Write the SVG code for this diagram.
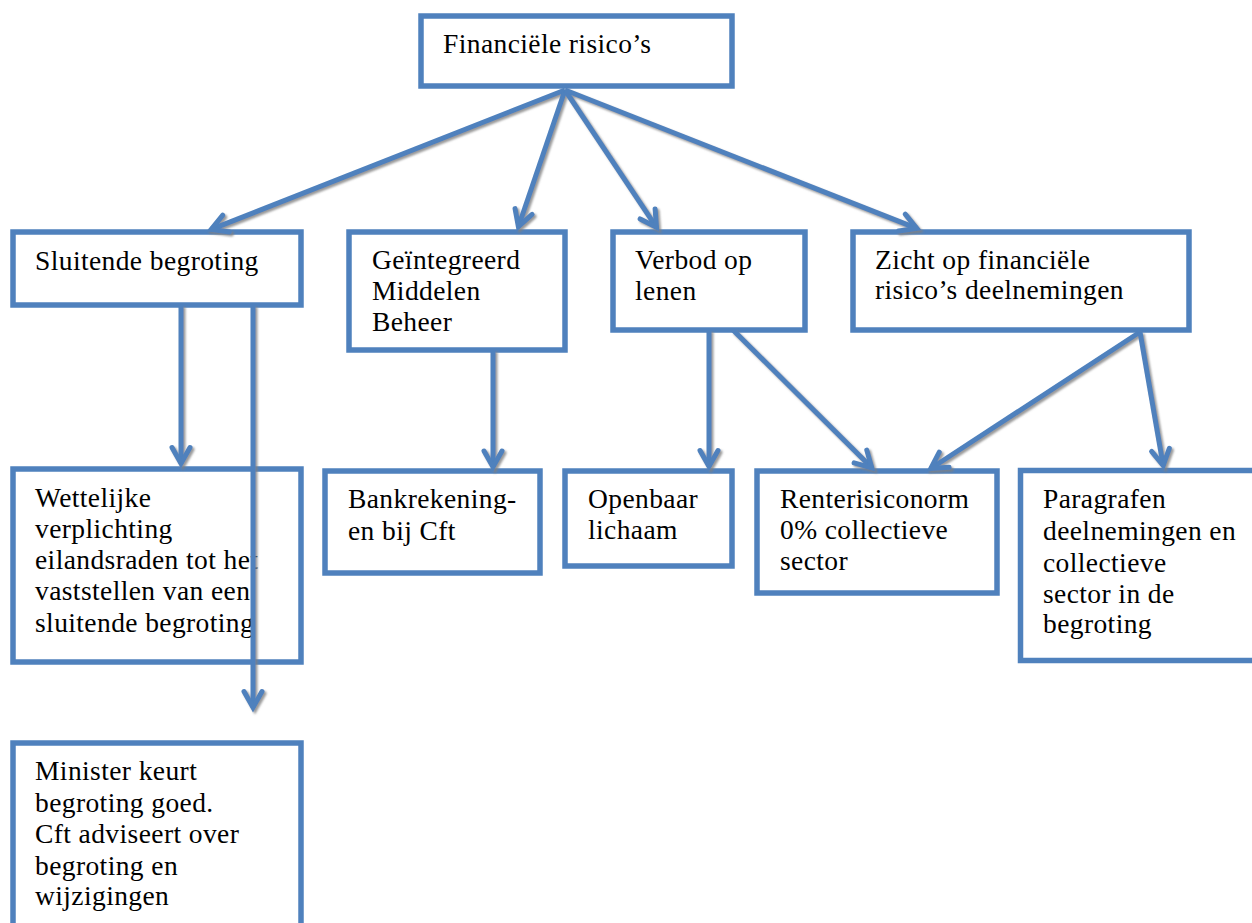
<svg xmlns="http://www.w3.org/2000/svg" width="1252" height="923" viewBox="0 0 1252 923">
<style>
.box{fill:#ffffff;stroke:#4f81bd;stroke-width:5.5}
.t{font-family:'Liberation Serif','DejaVu Serif',serif;font-size:27.5px;letter-spacing:0.4px;fill:#000000}
.c line{stroke:#4f81bd;stroke-width:5;fill:none;marker-end:url(#ah)}
</style>
<defs>
<marker id="ah" markerUnits="userSpaceOnUse" markerWidth="40" markerHeight="40" viewBox="-20 -20 40 40" refX="0" refY="0" orient="auto" overflow="visible">
<path d="M-16,-9 L0,0 L-16,9" fill="none" stroke="#4f81bd" stroke-width="5" stroke-linejoin="miter" stroke-linecap="round"/>
</marker>
<filter id="sh" filterUnits="userSpaceOnUse" x="0" y="0" width="1252" height="923">
<feGaussianBlur in="SourceAlpha" stdDeviation="1"/>
<feOffset dx="1.5" dy="2" result="o"/>
<feFlood flood-color="#808080" flood-opacity="0.8"/>
<feComposite in2="o" operator="in"/>
<feMerge><feMergeNode/><feMergeNode in="SourceGraphic"/></feMerge>
</filter>
</defs>
<rect width="1252" height="923" fill="#ffffff"/>
<g id="n-financiele">
<rect class="box" x="421" y="16" width="311" height="70"/>
<text class="t" x="443" y="53">Financiële risico’s</text>
</g>
<g id="n-sluitende">
<rect class="box" x="13" y="232" width="288" height="73"/>
<text class="t" x="35" y="270">Sluitende begroting</text>
</g>
<g id="n-geintegreerd">
<rect class="box" x="349" y="232" width="216" height="118"/>
<text class="t" x="372" y="269">Geïntegreerd</text>
<text class="t" x="372" y="300">Middelen</text>
<text class="t" x="372" y="331">Beheer</text>
</g>
<g id="n-verbod">
<rect class="box" x="613" y="232" width="192" height="98"/>
<text class="t" x="635" y="269">Verbod op</text>
<text class="t" x="635" y="300">lenen</text>
</g>
<g id="n-zicht">
<rect class="box" x="853" y="232" width="336" height="98"/>
<text class="t" x="875" y="269">Zicht op financiële</text>
<text class="t" x="875" y="299">risico’s deelnemingen</text>
</g>
<g id="n-wettelijke">
<rect class="box" x="13" y="469" width="288" height="193"/>
<text class="t" x="35" y="507">Wettelijke</text>
<text class="t" x="35" y="538">verplichting</text>
<text class="t" x="35" y="569">eilandsraden tot het</text>
<text class="t" x="35" y="600">vaststellen van een</text>
<text class="t" x="35" y="632">sluitende begroting</text>
</g>
<g id="n-minister">
<rect class="box" x="13" y="743" width="288" height="300"/>
<text class="t" x="35" y="780">Minister keurt</text>
<text class="t" x="35" y="812">begroting goed.</text>
<text class="t" x="35" y="843">Cft adviseert over</text>
<text class="t" x="35" y="875">begroting en</text>
<text class="t" x="35" y="905">wijzigingen</text>
</g>
<g id="n-bankrekening">
<rect class="box" x="325" y="471" width="215" height="102"/>
<text class="t" x="348" y="508">Bankrekening-</text>
<text class="t" x="348" y="540">en bij Cft</text>
</g>
<g id="n-openbaar">
<rect class="box" x="565" y="471" width="167" height="95"/>
<text class="t" x="588" y="508">Openbaar</text>
<text class="t" x="588" y="539">lichaam</text>
</g>
<g id="n-renterisiconorm">
<rect class="box" x="757" y="471" width="240" height="122"/>
<text class="t" x="780" y="508">Renterisiconorm</text>
<text class="t" x="780" y="539">0% collectieve</text>
<text class="t" x="780" y="570">sector</text>
</g>
<g id="n-paragrafen">
<rect class="box" x="1020.5" y="470.5" width="300" height="190"/>
<text class="t" x="1043" y="508">Paragrafen</text>
<text class="t" x="1043" y="540">deelnemingen en</text>
<text class="t" x="1043" y="572">collectieve</text>
<text class="t" x="1043" y="603">sector in de</text>
<text class="t" x="1043" y="633">begroting</text>
</g>
<g id="connectors" class="c" filter="url(#sh)">
<line x1="565" y1="90" x2="211.2" y2="229.4"/>
<line x1="565" y1="90" x2="518.4" y2="226.7"/>
<line x1="565" y1="90" x2="656.5" y2="227.3"/>
<line x1="565" y1="90" x2="916.8" y2="228.4"/>
<line x1="181" y1="305" x2="181" y2="463.5"/>
<line x1="253" y1="305" x2="253" y2="707.5"/>
<line x1="493" y1="350" x2="493" y2="467"/>
<line x1="709" y1="330" x2="709" y2="466.5"/>
<line x1="733" y1="330" x2="871.8" y2="467.8"/>
<line x1="1140" y1="332" x2="930.8" y2="468.5"/>
<line x1="1140" y1="332" x2="1163.2" y2="465.6"/>
</g>
</svg>
